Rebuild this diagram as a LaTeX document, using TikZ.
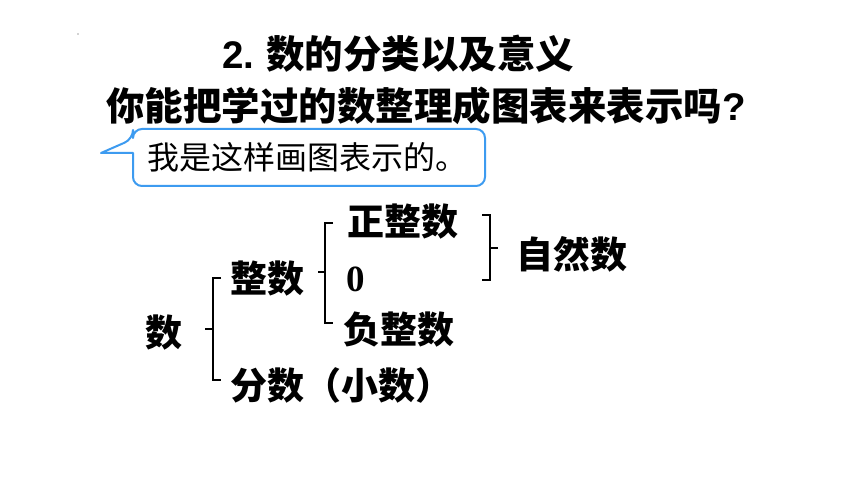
\documentclass[tikz,border=0pt]{standalone}
\usepackage{fontspec}
\usetikzlibrary{calc}
\newfontfamily\cjk{Noto Sans CJK SC}
\newfontfamily\latb{Liberation Sans}
\newfontfamily\serb{Liberation Serif}
\definecolor{bubblue}{HTML}{3D9BF0}
\tikzset{
  txt/.style={anchor=west, inner sep=0pt, font=\cjk\bfseries},
  title/.style={txt, font=\cjk\bfseries\fontsize{38.5}{42}\selectfont},
  item/.style={txt, font=\cjk\bfseries\fontsize{37}{40}\selectfont},
  bubtxt/.style={txt, font=\cjk\fontsize{32}{34}\selectfont},
  brace/.style={line width=2.2pt, line cap=butt, line join=miter},
  bubble/.style={draw=bubblue, line width=2pt, rounded corners=9pt, line join=round}
}
\begin{document}
\begin{tikzpicture}[x=1pt,y=-1pt]
\useasboundingbox (0,0) rectangle (860,484);
\fill[white] (0,0) rectangle (860,484);
% tiny dot
\fill[gray!70] (78,34) circle (0.8);
% titles
\node[title] (t1) at (222,54) {{\latb\bfseries 2.} 数的分类以及意义};
\node[title] (t2) at (106,106) {你能把学过的数整理成图表来表示吗{\latb\bfseries ?}};
% speech bubble
\draw[bubble] (133,153) -- (133,186) -- (485,186) -- (485,129) -- (133,129) -- (133,139)[sharp corners] -- (101,153) -- cycle;
\node[bubtxt] (b) at (147,157) {我是这样画图表示的。};
% diagram texts
\node[item] (shu) at (145,333) {数};
\node[item] (zs) at (230,279) {整数};
\node[item] (fs) at (230,385) {分数（小数）};
\node[item] (zzs) at (347,222) {正整数};
\node[txt, font=\serb\bfseries\fontsize{37}{40}\selectfont] (zero) at (346,279) {0};
\node[item] (fzs) at (343,330) {负整数};
\node[item] (zrs) at (516,254) {自然数};
% braces
\coordinate (b1t) at (213,278);
\coordinate (b1b) at (213,380);
\draw[brace] ($(b1t)+(8,0)$) -- (b1t) -- (b1b) -- ++(8,0);
\draw[brace] (213,329) -- (205,329);
\coordinate (b2t) at (325,223);
\coordinate (b2b) at (325,323);
\draw[brace] ($(b2t)+(8,0)$) -- (b2t) -- (b2b) -- ++(8,0);
\draw[brace] (325,272) -- (318,272);
\coordinate (b3t) at (490,215);
\coordinate (b3b) at (490,280);
\draw[brace] ($(b3t)+(-8,0)$) -- (b3t) -- (b3b) -- ++(-8,0);
\draw[brace] (490,248) -- (498,248);
\end{tikzpicture}
\end{document}
